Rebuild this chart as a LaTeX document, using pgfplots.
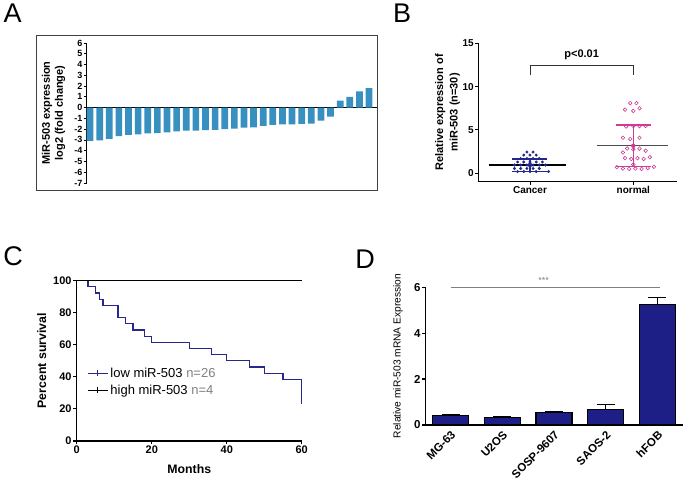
\documentclass[border=0pt]{standalone}
\usepackage{fontspec}
\setmainfont{Liberation Sans}
\usepackage{pgfplots}
\pgfplotsset{compat=1.18}
\definecolor{barA}{RGB}{56,144,192}
\definecolor{navyB}{RGB}{35,40,140}
\definecolor{pinkB}{RGB}{205,60,150}
\definecolor{navyC}{RGB}{40,40,140}
\definecolor{navyD}{RGB}{30,30,135}
\begin{document}
\begin{tikzpicture}
\path (0pt,0pt) rectangle (689pt,480pt);
% panel letters
\node[font=\fontsize{27}{30}\selectfont] at (12.5pt,467pt) {A};
\node[font=\fontsize{27}{30}\selectfont] at (402pt,467pt) {B};
\node[font=\fontsize{27}{30}\selectfont] at (13pt,224pt) {C};
\node[font=\fontsize{27}{30}\selectfont] at (365pt,221pt) {D};
% frame A
\draw[line width=0.9pt, black!75] (36pt,290pt) rectangle (377pt,445pt);

% ---------------- Panel A
\begin{axis}[
  at={(86.5pt,297pt)}, anchor=south west,
  scale only axis, width=290.5pt, height=140pt,
  xmin=0.64, xmax=30.83, ymin=-7, ymax=6,
  axis y line*=left, axis x line*=middle,
  xtick=\empty, ytick={-7,-6,...,6},
  tick align=outside, major tick length=3pt,
  axis line style={line width=0.8pt},
  every tick/.style={line width=0.8pt, black},
  /pgf/number format/assume math mode=true,
  yticklabel style={font=\bfseries\fontsize{9}{9}\selectfont, inner sep=1pt},
  ylabel={MiR-503 expression\\log2 (fold change)},
  ylabel style={align=center, font=\bfseries\fontsize{11}{13}\selectfont,
    at={(axis description cs:-0.114,0.5)}, anchor=center},
]
\addplot[ybar, fill=barA, draw=none, bar width=6.7pt] coordinates {
(1,-3.1)(2,-3.05)(3,-2.9)(4,-2.66)(5,-2.54)(6,-2.48)(7,-2.4)(8,-2.38)(9,-2.29)(10,-2.2)
(11,-2.14)(12,-2.14)(13,-2.1)(14,-2.07)(15,-2.01)(16,-1.95)(17,-1.86)(18,-1.83)(19,-1.7)(20,-1.61)
(21,-1.55)(22,-1.55)(23,-1.52)(24,-1.49)(25,-1.21)(26,-0.84)(27,0.65)(28,1.0)(29,1.5)(30,1.8)};
\end{axis}

% ---------------- Panel B
\begin{axis}[
  at={(478.3pt,298.3pt)}, anchor=south west,
  scale only axis, width=198.4pt, height=138.4pt,
  xmin=-0.5, xmax=1.42, ymin=-0.97, ymax=15,
  axis lines*=left, clip=false,
  xtick={0,1}, xticklabels={Cancer,normal},
  ytick={0,5,10,15},
  tick align=outside, major tick length=3pt,
  axis line style={line width=0.9pt},
  every tick/.style={line width=0.9pt, black},
  /pgf/number format/assume math mode=true,
  ticklabel style={font=\bfseries\fontsize{10}{10}\selectfont, inner sep=1.5pt},
  ylabel={Relative expression of\\miR-503 (n=30)},
  ylabel style={align=center, font=\bfseries\fontsize{11}{14.5}\selectfont,
    at={(axis description cs:-0.155,0.5)}, anchor=center},
]
\addplot[only marks, mark=*, mark size=1.3pt, navyB] coordinates {
(-0.03,2.45)(0.03,2.45)
(-0.06,2.1)(0,2.1)(0.06,2.1)
(-0.09,1.7)(-0.03,1.7)(0.03,1.7)(0.09,1.7)
(-0.12,1.3)(-0.06,1.3)(0,1.3)(0.06,1.3)(0.12,1.3)
(-0.15,0.95)(-0.09,0.95)(-0.03,0.95)(0.03,0.95)(0.09,0.95)(0.15,0.95)
(-0.15,0.55)(-0.09,0.55)(-0.03,0.55)(0.03,0.55)(0.09,0.55)
(-0.12,0.2)(-0.06,0.2)(0,0.2)(0.06,0.2)(0.18,0.2)};
\addplot[only marks, mark=o, mark size=1.8pt, pinkB, mark options={line width=0.6pt}] coordinates {
(0.97,8.1)(1.03,8.1)
(0.92,7.35)(1.0,7.2)(1.06,7.5)
(0.93,5.4)(1.0,5.45)(1.06,5.45)(1.12,5.45)
(0.9,4.1)(0.97,3.95)(1.06,4.1)
(0.94,2.85)(1.0,2.75)(1.06,2.85)(1.12,2.6)(0.9,2.4)
(0.92,1.75)(0.98,1.65)(1.04,1.75)(1.1,1.65)(1.16,1.85)
(0.84,0.7)(0.9,0.55)(0.96,0.5)(1.02,0.55)(1.08,0.5)(1.14,0.6)(1.2,0.75)(1.0,1.0)};
% SD bars
\addplot[navyB, only marks, mark=none,
  error bars/.cd, y dir=both, y explicit,
  error bar style={navyB, line width=1.3pt},
  error mark options={navyB, line width=1.3pt, mark size=17.5pt, rotate=90}]
  coordinates {(0,0.95) +- (0,0.71)};
\addplot[pinkB, only marks, mark=none,
  error bars/.cd, y dir=both, y explicit,
  error bar style={pinkB, line width=1.5pt},
  error mark options={pinkB, line width=1.5pt, mark size=17.5pt, rotate=90}]
  coordinates {(1,3.17) +- (0,2.4)};
% means
\addplot[black, line width=1.1pt] coordinates {(-0.4,0.96)(0.35,0.96)};
\addplot[black!70, line width=1.1pt] coordinates {(0.646,3.17)(1.339,3.17)};
\draw[black!80, line width=0.9pt] (axis cs:0,11.3) -- (axis cs:0,12.5) -- (axis cs:1,12.5) -- (axis cs:1,11.3);
\node[font=\bfseries\fontsize{11}{11}\selectfont] at (axis cs:0.5,13.7) {p<0.01};
\end{axis}

% ---------------- Panel C
\begin{axis}[
  at={(76.7pt,39pt)}, anchor=south west,
  scale only axis, width=225pt, height=160.3pt,
  xmin=0, xmax=60, ymin=0, ymax=100,
  axis lines*=left, clip=false,
  xtick={0,20,40,60}, ytick={0,20,...,100},
  tick align=outside, major tick length=3.5pt,
  axis line style={line width=1.2pt},
  every tick/.style={line width=1.2pt, black},
  /pgf/number format/assume math mode=true,
  ticklabel style={font=\bfseries\fontsize{11}{11}\selectfont, inner sep=1.5pt},
  xlabel={Months}, ylabel={Percent survival},
  xlabel style={font=\bfseries\fontsize{12.3}{13}\selectfont,
    at={(axis description cs:0.5,-0.175)}, anchor=center},
  ylabel style={font=\bfseries\fontsize{12.3}{13}\selectfont,
    at={(axis description cs:-0.156,0.5)}, anchor=center},
  legend cell align=left,
  legend image code/.code={\draw[#1] (0pt,0pt) -- (20pt,0pt); \draw[#1] (10pt,-3pt) -- (10pt,3pt);},
  legend style={at={(0.046,0.369)}, anchor=west, draw=none, fill=none, inner sep=0pt,
    font=\fontsize{13}{15}\selectfont, row sep=2pt},
]
\addplot[const plot, navyC, line width=1.1pt] coordinates {
(0,100)(3,96.15)(5,92.3)(6,88.46)(7,84.6)(11,76.9)(13,73.08)(15,69.2)(18,65.4)(20,61.5)
(30,57.7)(36,53.8)(40,50)(46,46.15)(50,42.3)(55,38.5)(60,23.08)};
\addlegendentry{low miR-503 \textcolor{gray}{n=26}}
\addplot[black, line width=1.1pt] coordinates {(0,100)(60,100)};
\addlegendentry{high miR-503 \textcolor{gray}{n=4}}
\end{axis}

% ---------------- Panel D
\begin{axis}[
  at={(425.7pt,55pt)}, anchor=south west,
  scale only axis, width=257.6pt, height=137.7pt,
  xmin=-0.48, xmax=4.5, ymin=0, ymax=6,
  axis lines*=left, clip=false,
  xtick={0,1,2,3,4}, xticklabels={MG-63,U2OS,SOSP-9607,SAOS-2,hFOB},
  xtick style={draw=none},
  ytick={0,2,4,6},
  tick align=outside, major tick length=3.5pt,
  axis line style={line width=1.2pt},
  every tick/.style={line width=1.2pt, black},
  /pgf/number format/assume math mode=true,
  yticklabel style={font=\bfseries\fontsize{11.5}{12}\selectfont, inner sep=1.5pt},
  xticklabel style={rotate=45, anchor=north east, inner sep=1pt,
    font=\bfseries\fontsize{11.5}{12}\selectfont},
  ylabel={Relative miR-503 mRNA Expression},
  ylabel style={font=\fontsize{10.2}{11}\selectfont,
    at={(axis description cs:-0.1075,0.5)}, anchor=center},
]
\addplot[ybar, fill=navyD, draw=black, line width=1.3pt, bar width=36pt,
  error bars/.cd, y dir=plus, y explicit,
  error bar style={black, line width=1.3pt},
  error mark options={black, line width=1.3pt, mark size=9pt, rotate=90}]
  coordinates {(0,0.42)+-(0,0.04) (1,0.32)+-(0,0.04) (2,0.55)+-(0,0.05) (3,0.68)+-(0,0.2) (4,5.25)+-(0,0.3)};
\draw[gray, line width=1pt] (axis cs:0,5.98) -- (axis cs:4.05,5.98);
\node[gray, font=\fontsize{9}{9}\selectfont] at (axis cs:1.8,6.28) {***};
\end{axis}
\end{tikzpicture}
\end{document}
